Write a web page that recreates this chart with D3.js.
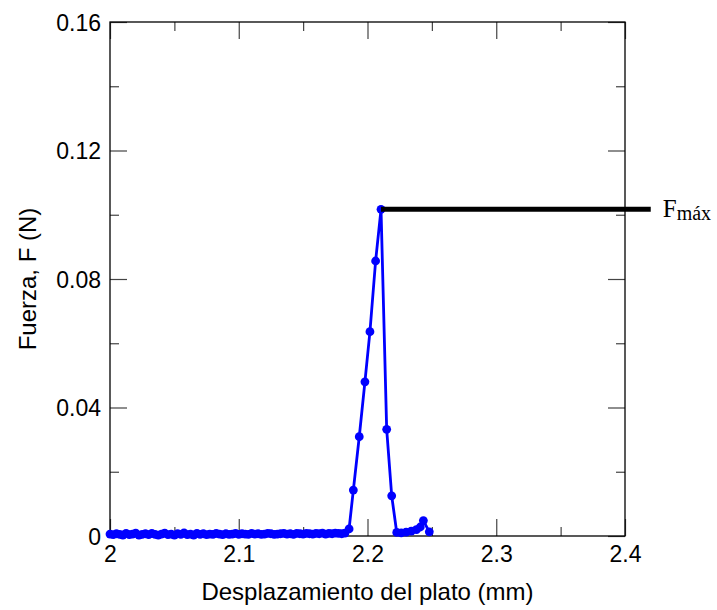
<!DOCTYPE html>
<html><head><meta charset="utf-8">
<script src="https://cdn.jsdelivr.net/npm/d3@7"></script>
<style>body{margin:0;background:#fff}svg{display:block}</style>
</head><body>
<svg id="c" width="717" height="610"></svg>
<script>
const displacement = [
2.0000,2.0025,2.0050,2.0075,2.0100,2.0125,2.0150,2.0175,2.0200,2.0225,2.0250,2.0275,2.0300,2.0325,2.0350,2.0375,2.0400,2.0425,2.0450,2.0475,
2.0500,2.0525,2.0550,2.0575,2.0600,2.0625,2.0650,2.0675,2.0700,2.0725,2.0750,2.0775,2.0800,2.0825,2.0850,2.0875,2.0900,2.0925,2.0950,2.0975,
2.1000,2.1025,2.1050,2.1075,2.1100,2.1125,2.1150,2.1175,2.1200,2.1225,2.1250,2.1275,2.1300,2.1325,2.1350,2.1375,2.1400,2.1425,2.1450,2.1475,
2.1500,2.1525,2.1550,2.1575,2.1600,2.1625,2.1650,2.1675,2.1700,2.1725,2.1750,2.1775,2.1800,2.1825,
2.1857,2.1890,2.1936,2.1980,2.2019,2.2063,2.2105,2.2149,2.2188,2.2227,2.2262,2.2300,2.2340,2.2380,2.2410,2.2434,2.2480];
const force = [
0.0006,0.0004,0.0007,0.0005,0.0003,0.0008,0.0004,0.0006,0.0009,0.0003,0.0005,0.0007,0.0004,0.0008,0.0005,0.0003,0.0006,0.0009,0.0004,0.0006,
0.0003,0.0007,0.0005,0.0010,0.0004,0.0006,0.0003,0.0008,0.0005,0.0007,0.0004,0.0006,0.0005,0.0008,0.0006,0.0004,0.0007,0.0005,0.0006,0.0008,
0.0005,0.0007,0.0006,0.0005,0.0008,0.0006,0.0007,0.0005,0.0006,0.0008,0.0007,0.0005,0.0006,0.0007,0.0008,0.0006,0.0007,0.0005,0.0008,0.0007,
0.0006,0.0008,0.0007,0.0006,0.0008,0.0007,0.0009,0.0006,0.0008,0.0007,0.0009,0.0008,0.0007,0.0009,
0.0022,0.0143,0.0309,0.0480,0.0636,0.0856,0.1017,0.0332,0.0125,0.0011,0.0010,0.0012,0.0015,0.0020,0.0028,0.0048,0.0013];
const xMajorTicks = [2.0, 2.1, 2.2, 2.3, 2.4];
const xTickLabels = ["2", "2.1", "2.2", "2.3", "2.4"];
const xMinorTicks = [2.05, 2.15, 2.25, 2.35];
const yMajorTicks = [0, 0.04, 0.08, 0.12, 0.16];
const yTickLabels = ["0", "0.04", "0.08", "0.12", "0.16"];
const yMinorTicks = [0.02, 0.06, 0.10, 0.14];
const xTitle = "Desplazamiento del plato (mm)";
const yTitle = "Fuerza, F (N)";
const fmaxEndX = 2.42;

const svg = d3.select("#c");
const L = 110, R = 625, T = 22, B = 536;
const x = d3.scaleLinear().domain([2.0, 2.4]).range([L, R]);
const y = d3.scaleLinear().domain([0, 0.16]).range([B, T]);
const font = "'Liberation Sans', Arial, sans-serif";
const tickCol = "#444", majorLen = 17, minorLen = 9;

// ticks (inward, mirrored)
const gB = svg.append("g").attr("transform", `translate(0,${B})`)
  .call(d3.axisBottom(x).tickValues(xMajorTicks).tickSizeInner(-majorLen).tickSizeOuter(0)
    .tickFormat((d, i) => xTickLabels[i]).tickPadding(10));
svg.append("g").attr("transform", `translate(0,${B})`)
  .call(d3.axisBottom(x).tickValues(xMinorTicks).tickSizeInner(-minorLen).tickSizeOuter(0).tickFormat(""));
svg.append("g").attr("transform", `translate(0,${T})`)
  .call(d3.axisTop(x).tickValues(xMajorTicks).tickSizeInner(-majorLen).tickSizeOuter(0).tickFormat(""));
svg.append("g").attr("transform", `translate(0,${T})`)
  .call(d3.axisTop(x).tickValues(xMinorTicks).tickSizeInner(-minorLen).tickSizeOuter(0).tickFormat(""));
const gL = svg.append("g").attr("transform", `translate(${L},0)`)
  .call(d3.axisLeft(y).tickValues(yMajorTicks).tickSizeInner(-majorLen).tickSizeOuter(0)
    .tickFormat((d, i) => yTickLabels[i]).tickPadding(9));
svg.append("g").attr("transform", `translate(${L},0)`)
  .call(d3.axisLeft(y).tickValues(yMinorTicks).tickSizeInner(-minorLen).tickSizeOuter(0).tickFormat(""));
svg.append("g").attr("transform", `translate(${R},0)`)
  .call(d3.axisRight(y).tickValues(yMajorTicks).tickSizeInner(-majorLen).tickSizeOuter(0).tickFormat(""));
svg.append("g").attr("transform", `translate(${R},0)`)
  .call(d3.axisRight(y).tickValues(yMinorTicks).tickSizeInner(-minorLen).tickSizeOuter(0).tickFormat(""));
svg.selectAll(".domain").remove();
svg.selectAll(".tick line").attr("stroke", tickCol).attr("stroke-width", 1.2);
svg.selectAll(".tick text").attr("fill", "#000").style("font-family", font).style("font-size", "23px");
gL.selectAll(".tick text").attr("dy", "0.35em");

// frame
svg.append("rect").attr("x", L).attr("y", T).attr("width", R - L).attr("height", B - T)
  .attr("fill", "none").attr("stroke", "#000").attr("stroke-width", 1.3);

// data line and markers
const pts = displacement.map((d, i) => [d, force[i]]);
const line = d3.line().x(d => x(d[0])).y(d => y(d[1]));
svg.append("path").datum(pts).attr("d", line).attr("fill", "none")
  .attr("stroke", "#0000ff").attr("stroke-width", 2.8).attr("stroke-linejoin", "round");
svg.append("g").selectAll("circle").data(pts).join("circle")
  .attr("cx", d => x(d[0])).attr("cy", d => y(d[1])).attr("r", 4.4).attr("fill", "#0000ff");

// Fmax marker
const iMax = d3.maxIndex(force);
svg.append("line").attr("x1", x(displacement[iMax])).attr("x2", x(fmaxEndX))
  .attr("y1", y(force[iMax])).attr("y2", y(force[iMax]))
  .attr("stroke", "#000").attr("stroke-width", 5);
const fl = svg.append("text").attr("x", x(fmaxEndX) + 12).attr("y", y(force[iMax]) + 8)
  .style("font-family", "'Liberation Serif', 'Times New Roman', serif").style("font-size", "25px");
fl.append("tspan").text("F");
fl.append("tspan").attr("dy", 3).style("font-size", "20px").text("máx");

// axis titles
svg.append("text").attr("x", (L + R) / 2).attr("y", 600).attr("text-anchor", "middle")
  .style("font-family", font).style("font-size", "24px").text(xTitle);
svg.append("text").attr("transform", `translate(36,${(T + B) / 2}) rotate(-90)`).attr("text-anchor", "middle")
  .style("font-family", font).style("font-size", "24px").text(yTitle);
</script>
</body></html>
